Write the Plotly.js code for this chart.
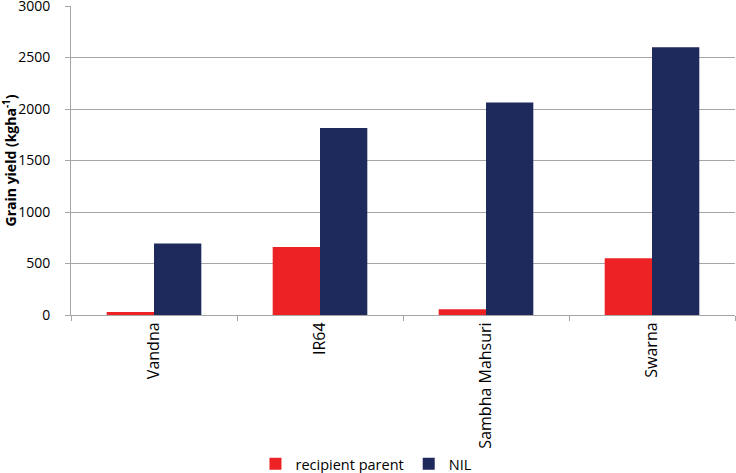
<!DOCTYPE html>
<html><head><meta charset="utf-8">
<script src="https://cdn.plot.ly/plotly-3.0.1.min.js"></script>
<style>body{margin:0;background:#fff}#c{width:736px;height:473px}</style>
</head><body><div id="c"></div>
<script>
const categories = ["Vandna", "IR64", "Sambha Mahsuri", "Swarna"];
const recipientParent = [28, 660, 55, 550];
const nil = [693, 1815, 2063, 2600];
const yTicks = [0, 500, 1000, 1500, 2000, 2500, 3000];

const font = "'Open Sans', 'Liberation Sans', sans-serif";
const traces = [
  {type: "bar", name: "recipient parent", x: categories, y: recipientParent,
   marker: {color: "#ED2224"}},
  {type: "bar", name: "NIL", x: categories, y: nil,
   marker: {color: "#1F2A5C"}}
];
const layout = {
  width: 736, height: 473,
  margin: {l: 71, r: 1, t: 6, b: 158, autoexpand: false},
  barmode: "group", bargap: 0.43, bargroupgap: 0,
  paper_bgcolor: "#fff", plot_bgcolor: "#fff",
  font: {family: font, size: 14, color: "#000"},
  showlegend: true,
  legend: {orientation: "h", x: 0.445, xanchor: "center", y: -0.482, yanchor: "middle",
           font: {size: 14.5}, itemwidth: 30, traceorder: "normal"},
  xaxis: {type: "category", tickangle: -90, tickson: "boundaries", ticks: "outside",
          ticklen: 5, tickcolor: "#a6a6a6", showline: true, linecolor: "#a6a6a6",
          showgrid: false, zeroline: false, tickfont: {size: 16}, automargin: false,
          ticklabeloverflow: "allow"},
  yaxis: {range: [0, 3000], tickvals: yTicks, ticktext: yTicks.map(String),
          ticks: "outside", ticklen: 5, tickcolor: "#a6a6a6", automargin: false,
          ticklabelstandoff: 12, ticklabeloverflow: "allow",
          showline: true, linecolor: "#a6a6a6", showgrid: true, gridcolor: "#a6a6a6",
          zeroline: false, tickfont: {size: 14},
          title: {text: "<b>Grain yield (kgha<sup>-1</sup>)</b>", font: {size: 14}, standoff: 1}}
};
Plotly.newPlot("c", traces, layout, {displayModeBar: false, staticPlot: true});
</script></body></html>
